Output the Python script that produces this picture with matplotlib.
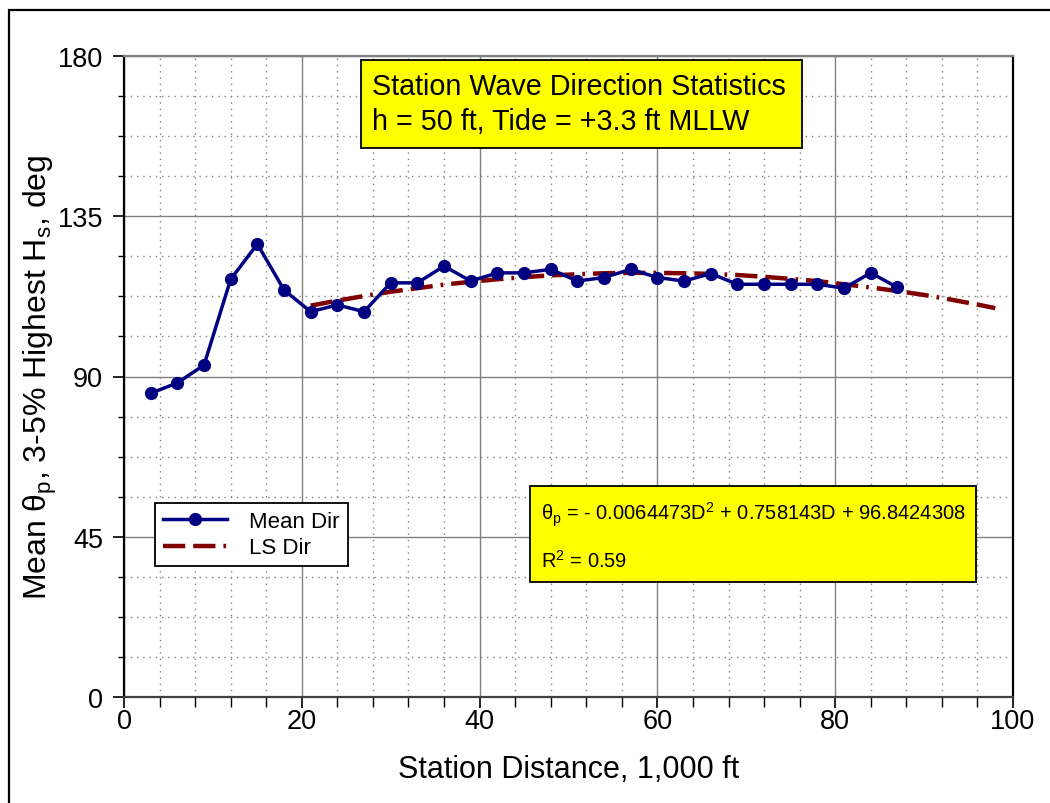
import matplotlib
matplotlib.use('Agg')
import matplotlib.pyplot as plt
from matplotlib.patches import Rectangle
from matplotlib.ticker import MultipleLocator

plt.rcParams['font.family'] = ['Liberation Sans', 'DejaVu Sans']
plt.rcParams['mathtext.fontset'] = 'custom'
plt.rcParams['mathtext.rm'] = 'Liberation Sans'
plt.rcParams['mathtext.it'] = 'Liberation Sans'

# Mean direction per station
station = [3, 6, 9, 12, 15, 18, 21, 24, 27, 30, 33, 36, 39, 42, 45,
           48, 51, 54, 57, 60, 63, 66, 69, 72, 75, 78, 81, 84, 87]
mean_dir = [85.3, 88.2, 93.2, 117.3, 127.2, 114.3, 108.2, 110.1, 108.2, 116.3,
            116.3, 121.0, 116.8, 119.1, 119.1, 120.1, 116.8, 117.8, 120.1, 117.8,
            116.8, 118.9, 115.9, 115.9, 115.9, 115.9, 114.8, 119.1, 115.0]

# least squares curve
ls_station = [21, 24, 27, 30, 33, 36, 39, 42, 45, 48, 51, 54, 57, 60,
              63, 66, 69, 72, 75, 78, 81, 84, 87, 90, 93, 96, 98]
ls_dir = [109.9, 111.3, 112.6, 113.8, 114.8, 115.8, 116.6, 117.3, 117.9, 118.4,
          118.7, 119.0, 119.1, 119.1, 119.0, 118.8, 118.5, 118.0, 117.4, 116.8,
          115.9, 115.0, 114.0, 112.9, 111.6, 110.2, 109.2]

title_lines = ["Station Wave Direction Statistics", "h = 50 ft, Tide = +3.3 ft MLLW"]
eq_lines = [r"$\theta_p$ = - 0.0064473D$^2$ + 0.758143D + 96.8424308", r"R$^2$ = 0.59"]

fig = plt.figure(figsize=(10.5, 8.04), dpi=100)
ax = fig.add_axes([124/1050, 1 - 698/804, 889/1050, 641/804])

# frame around the whole figure (runs off the right and bottom edges)
fig.patches.append(Rectangle((9/1050, -0.1), 1.2, 1.1 - 11/804,
                             transform=fig.transFigure, fill=False,
                             edgecolor='black', lw=1.6, clip_on=False))

ax.plot(station, mean_dir, '-o', color='#000080', lw=2.5, ms=8.5,
        label='Mean Dir', zorder=4)
ax.plot(ls_station, ls_dir, color='#800000', lw=3.2,
        linestyle=(0, (5, 1.8, 5, 1.8, 0.6, 1.8)), label='LS Dir', zorder=3)

ax.set_xlim(0, 100)
ax.set_ylim(0, 180)
ax.xaxis.set_major_locator(MultipleLocator(20))
ax.xaxis.set_minor_locator(MultipleLocator(4))
ax.yaxis.set_major_locator(MultipleLocator(45))
ax.yaxis.set_minor_locator(MultipleLocator(11.25))

ax.grid(which='major', color='#808080', lw=1.0, ls='-')
ax.grid(which='minor', color='#808080', lw=1.0, ls=(0, (1, 3.5)))
ax.set_axisbelow(True)

ax.tick_params(which='major', direction='out', length=8, width=1.2,
               labelsize=19.5, color='black')
ax.tick_params(axis='y', which='major', pad=7)
ax.tick_params(axis='x', which='major', pad=0)
ax.tick_params(axis='x', which='minor', direction='out', length=7.5, width=1.0)
ax.tick_params(axis='y', which='minor', direction='out', length=4.5, width=1.0)

for s in ['left', 'bottom', 'right']:
    ax.spines[s].set_color('black')
    ax.spines[s].set_linewidth(1.6)
ax.spines['top'].set_color('#808080')
ax.spines['top'].set_linewidth(1.6)
ax.spines['bottom'].set_color('#404040')

ax.set_xlabel("Station Distance, 1,000 ft", fontsize=22, labelpad=14)
ax.set_ylabel(r"Mean $\theta_p$, 3-5% Highest H$_s$, deg", fontsize=23, labelpad=-1)

# title box
ax.add_patch(Rectangle((0.2666, 0.8565), 0.4961, 0.1373, transform=ax.transAxes,
                       facecolor='yellow', edgecolor='black', lw=1.3, zorder=6))
ax.text(0.279, 0.9525, title_lines[0], transform=ax.transAxes, fontsize=20.7,
        va='center', ha='left', zorder=7)
ax.text(0.279, 0.8985, title_lines[1], transform=ax.transAxes, fontsize=20.7,
        va='center', ha='left', zorder=7)

# equation box
ax.add_patch(Rectangle((0.4567, 0.1794), 0.5013, 0.1496, transform=ax.transAxes,
                       facecolor='yellow', edgecolor='black', lw=1.3, zorder=6))
ax.text(0.4687, 0.2855, eq_lines[0], transform=ax.transAxes, fontsize=14.5,
        va='center', ha='left', zorder=7)
ax.text(0.4687, 0.2142, eq_lines[1], transform=ax.transAxes, fontsize=14.5,
        va='center', ha='left', zorder=7)

leg = ax.legend(loc='upper left', bbox_to_anchor=(0.0349, 0.3027), borderaxespad=0,
                fontsize=16, frameon=True, fancybox=False, framealpha=1,
                edgecolor='black', handlelength=2.9, handletextpad=1.0,
                borderpad=0.35, labelspacing=0.25)
leg.get_frame().set_linewidth(1.3)
leg.set_zorder(8)

fig.savefig('out.png', dpi=100)
